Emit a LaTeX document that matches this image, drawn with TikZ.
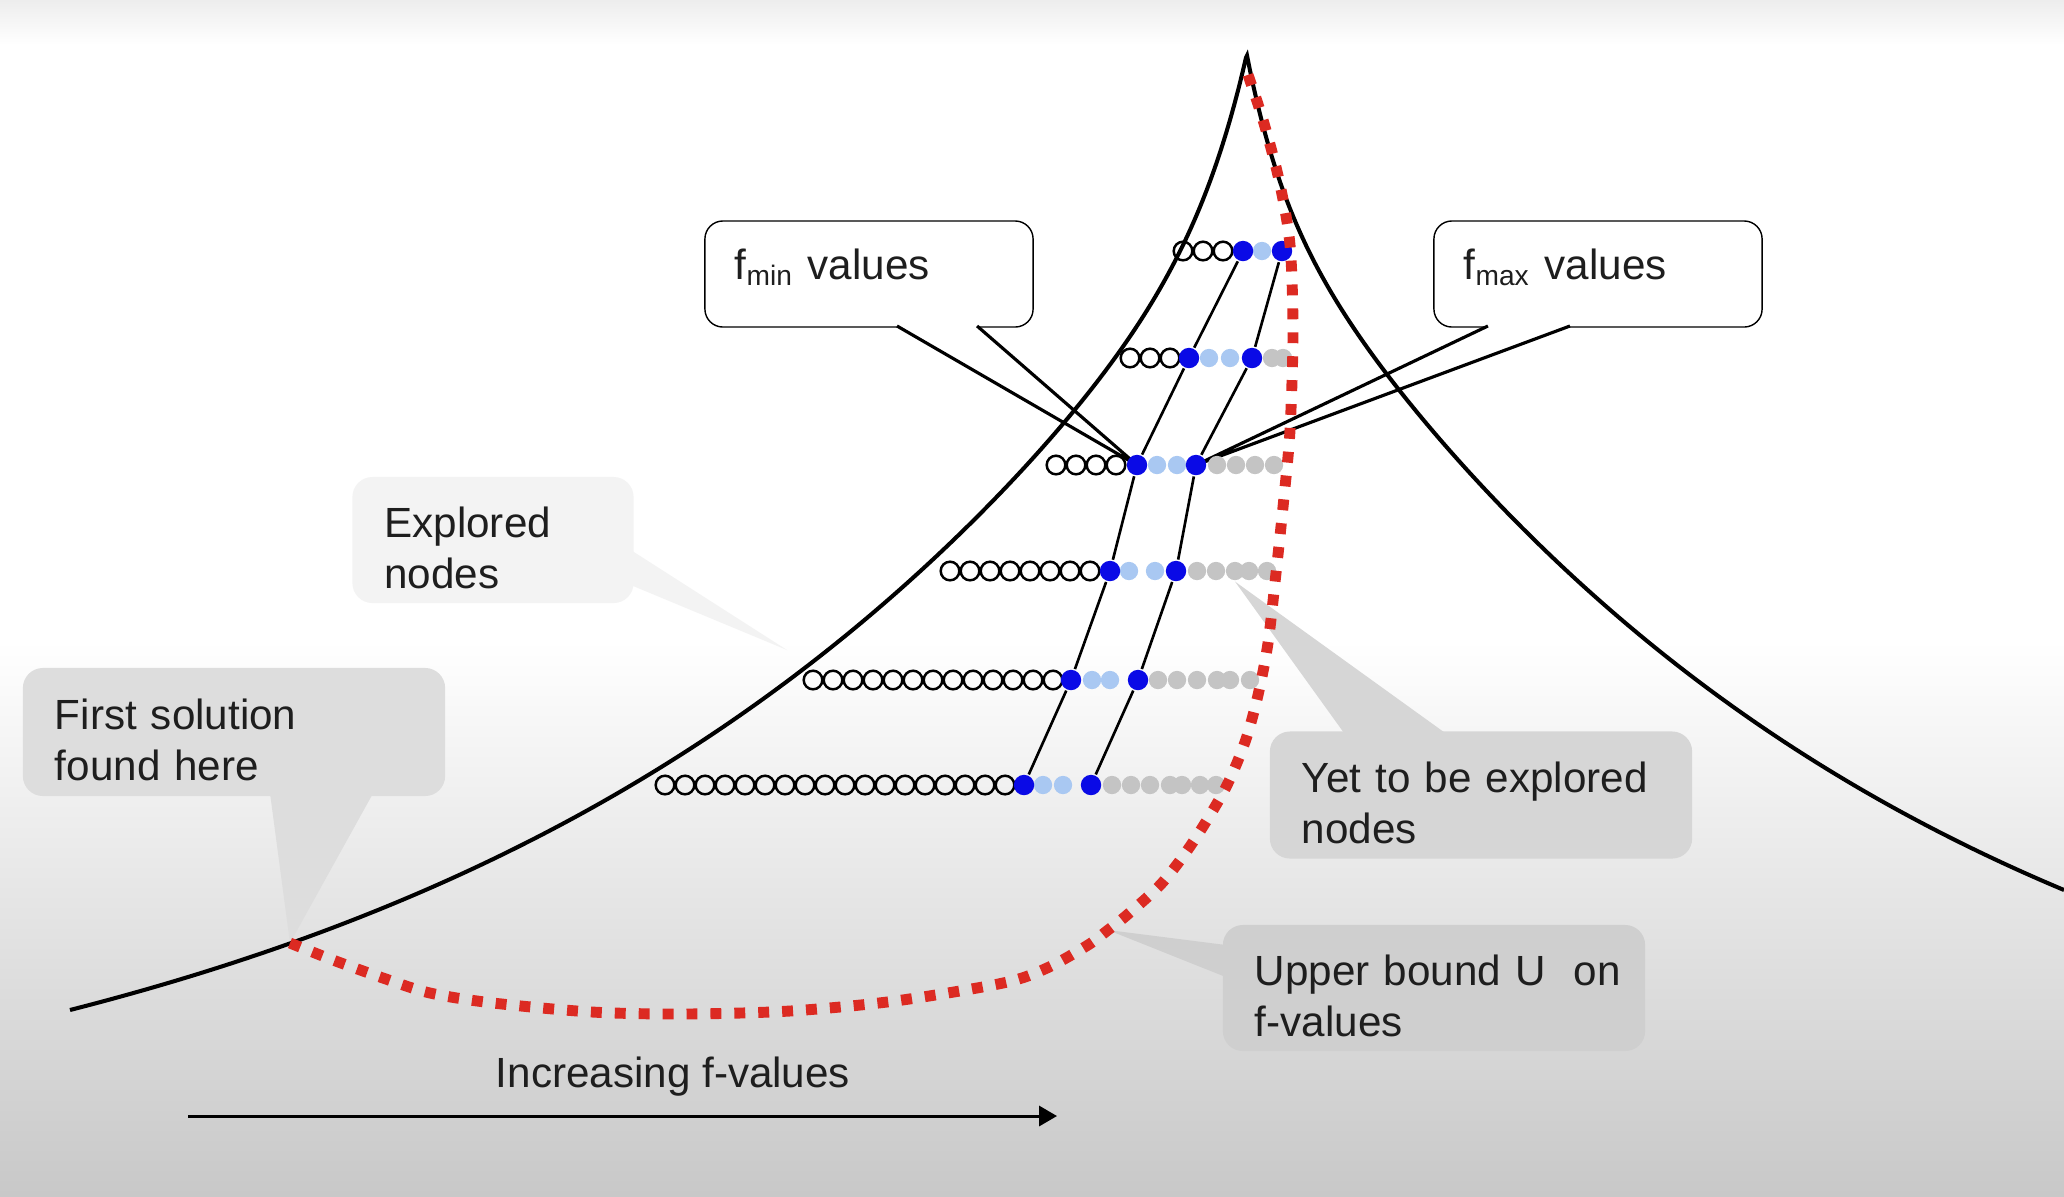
\documentclass[tikz,border=0pt]{standalone}
\usepackage{fontspec}
\setmainfont{Liberation Sans}
\usetikzlibrary{arrows.meta, backgrounds}
\definecolor{ctext}{HTML}{1E1E1E}
\definecolor{cblue}{HTML}{0A0AE6}
\definecolor{clight}{HTML}{A9C8F2}
\definecolor{cgray}{HTML}{C4C4C4}
\definecolor{cred}{HTML}{DC2A22}
\definecolor{cpale}{HTML}{F3F3F3}
\definecolor{cfirst}{HTML}{DDDDDD}
\definecolor{cyet}{HTML}{D6D6D6}
\definecolor{cupper}{HTML}{CFCFCF}
\definecolor{cbgtop}{HTML}{EDEDED}
\definecolor{cbgbot}{HTML}{C8C8C8}
\newcommand{\notestrut}{\rule{0pt}{13.4pt}}
\newcommand{\boxstrut}{\rule[-5.5pt]{0pt}{0pt}}
\tikzset{
  every picture/.style={line width=0.8pt},
  note/.style={fill=#1, rounded corners=0.2cm, align=left, inner xsep=0.32cm, inner ysep=0pt, execute at begin node=\notestrut},
  note/.default=cyet,
  box/.style={draw, fill=white, rounded corners=0.18cm, align=left, inner xsep=0.3cm, inner ysep=0pt, execute at begin node=\boxstrut},
  pointer/.style={fill=white, line width=0.9pt},
}

\begin{document}
\begin{tikzpicture}[
    x=0.01cm, y=-0.01cm,
    every node/.append style={font=\fontsize{12}{14.5}\selectfont, text=ctext},
    hill/.style={line width=1.15pt, line join=miter},
    openc/.style={circle, draw=black, line width=0.7pt, minimum size=5.3pt, inner sep=0pt},
    fdot/.style={circle, fill=#1, minimum size=5.2pt, inner sep=0pt},
    fchain/.style={line width=0.75pt},
    ubound/.style={draw=cred, line width=3.1pt, dash pattern=on 3.1pt off 3.7pt},
    axisarrow/.style={-{Triangle[length=5.1pt, width=5.7pt]}, line width=0.85pt},
  ]
  \useasboundingbox (0,0) rectangle (2064,1196);
  \begin{scope}[on background layer]
    \fill[white] (0,0) rectangle (2064,1196);
    \shade[top color=cbgtop, bottom color=white] (0,0) rectangle (2064,45);
    \shade[top color=white, bottom color=cbgbot] (0,640) rectangle (2064,1196);
  \end{scope}

  \coordinate (firstSol) at (290,943);
  \coordinate (explTip) at (787,650);
  \coordinate (boundTip) at (1108,930);

  % search space
  \draw[hill] plot[domain=70:1246, samples=300] (\x, {1010 - 171*(exp(0.0015*(\x-70)) - 1) - 131*exp(max(-9, 0.022*(\x-1246)))})
    -- plot[domain=1247:2064, samples=250] (\x, {890 - 262*(exp(0.0016*(2064-\x)) - 1) - 130*exp(max(-9, 0.028*(1246-\x)))});

  % explored nodes
  \foreach \y/\x/\n [count=\r] in {251/1183/3, 358/1130/3, 465/1056/4, 571/950/8, 680/813/13, 785/665/18}
    \foreach \i in {1,...,\n}
      \node[openc] (e\r-\i) at ({\x+20*(\i-1)},\y) {};
  % between fmin and fmax
  \foreach \y/\xs [count=\r] in {251/{1262}, 358/{1209,1230}, 465/{1157,1177}, 571/{1129,1155}, 680/{1092,1110}, 785/{1043,1063}}
    \foreach \x [count=\i] in \xs
      \node[fdot=clight] (l\r-\i) at (\x,\y) {};
  % yet to be explored
  \foreach \y/\xs [count=\r from 2] in {358/{1272,1283}, 465/{1217,1236,1255,1274}, 571/{1197,1216,1235,1249,1267}, 680/{1158,1177,1197,1217,1230,1250}, 785/{1112,1131,1150,1170,1182,1200,1216}}
    \foreach \x [count=\i] in \xs
      \node[fdot=cgray] (g\r-\i) at (\x,\y) {};
  % fmin and fmax
  \foreach \y/\a/\b [count=\r] in {251/1243/1282, 358/1189/1252, 465/1137/1196, 571/1110/1176, 680/1071/1138, 785/1024/1091} {
    \node[fdot=cblue, minimum size=5.8pt] (fmin\r) at (\a,\y) {};
    \node[fdot=cblue, minimum size=5.8pt] (fmax\r) at (\b,\y) {};
  }
  \draw[fchain] (fmin1) -- (fmin2) -- (fmin3) -- (fmin4) -- (fmin5) -- (fmin6);
  \draw[fchain] (fmax1) -- (fmax2) -- (fmax3) -- (fmax4) -- (fmax5) -- (fmax6);

  % upper bound U
  \draw[ubound] plot[smooth] coordinates {(firstSol) (333,960) (383,978) (430,993) (493,1003) (592,1012) (684,1014) (790,1011) (895,1001) (1003,983) (1047,968) (1088,945) (boundTip) (1127,915) (1162,883) (1193,842) (1225,789) (1245,742) (1258,695) (1268,643) (1276,573) (1284,497) (1290,430) (1293,333) (1290,245) (1279,180) (1263,120) (1247,72)};

  % callouts
  \begin{scope}[on background layer]
    \node[note=cpale, text width=2.17cm, minimum height=1.26cm] (exploredNote) at (493,540) {Explored\\nodes};
    \fill[cpale] ([xshift=-1pt, yshift=-0.10cm]exploredNote.east) -- (explTip) -- ([xshift=-1pt, yshift=-0.45cm]exploredNote.east) -- cycle;
    \node[note=cfirst, text width=3.58cm, minimum height=1.28cm] (firstNote) at (234,732) {First solution\\found here};
    \fill[cfirst] ([xshift=0.36cm, yshift=1pt]firstNote.south) -- (firstSol) -- ([xshift=1.39cm, yshift=1pt]firstNote.south) -- cycle;
    \node[note=cyet, text width=3.58cm, minimum height=1.27cm] (yetNote) at (1481,795) {Yet to be explored\\nodes};
    \fill[cyet] ([xshift=-1.36cm, yshift=-1pt]yetNote.north) -- (g4-3.south) -- ([xshift=-0.34cm, yshift=-1pt]yetNote.north) -- cycle;
    \node[note=cupper, text width=3.58cm, minimum height=1.26cm] (upperNote) at (1434,988) {\mbox{Upper bound U\ \ on}\\f-values};
    \fill[cupper] ([xshift=1pt, yshift=0.43cm]upperNote.west) -- (boundTip) -- ([xshift=1pt, yshift=0.11cm]upperNote.west) -- cycle;

    \node[box, text width=2.68cm, minimum height=1.06cm] (fminNote) at (869,274) {f\textsubscript{min} values};
    \draw[pointer] ([xshift=0.28cm, yshift=0.5pt]fminNote.south) -- (fmin3.center) -- ([xshift=1.08cm, yshift=0.5pt]fminNote.south);
    \node[box, text width=2.68cm, minimum height=1.06cm] (fmaxNote) at (1598,274) {f\textsubscript{max} values};
    \draw[pointer] ([xshift=-1.10cm, yshift=0.5pt]fmaxNote.south) -- (fmax3.center) -- ([xshift=-0.28cm, yshift=0.5pt]fmaxNote.south);
  \end{scope}

  % f-value axis
  \coordinate (axisL) at (188,1116);
  \coordinate (axisR) at (1057,1116);
  \draw[axisarrow] (axisL) -- (axisR);
  \node[anchor=base] (incrLabel) at (673,1087) {Increasing f-values};
\end{tikzpicture}
\end{document}
